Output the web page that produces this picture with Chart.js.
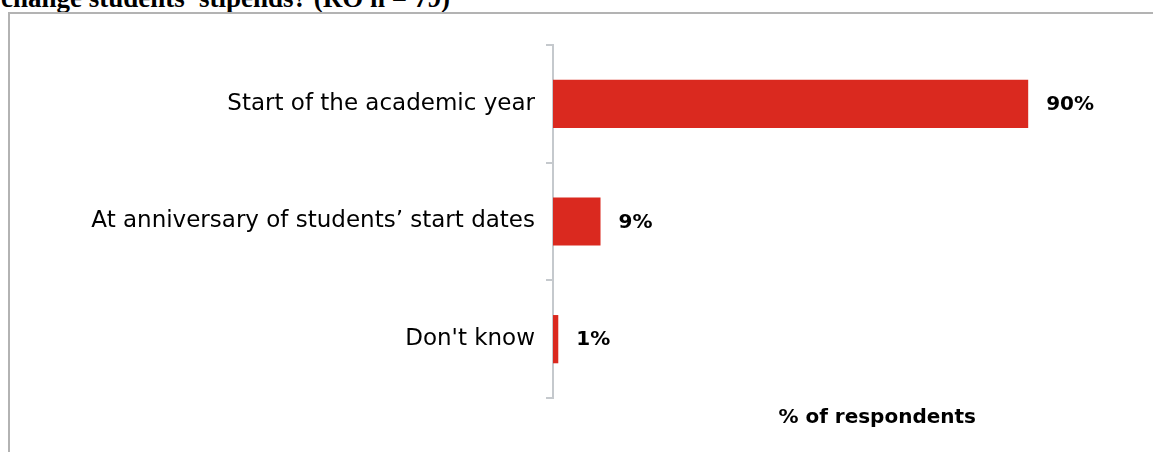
<!DOCTYPE html>
<html>
<head>
<meta charset="utf-8">
<script src="https://cdn.jsdelivr.net/npm/chart.js@4"></script>
<style>
  html, body { margin: 0; padding: 0; background: #fff; overflow: hidden; }
  body { width: 1153px; height: 452px; position: relative; }
  #heading {
    position: absolute; left: 1px; top: -15px; margin: 0;
    font: bold 27px/27px "Liberation Serif", "Times New Roman", serif;
    color: #000; white-space: nowrap;
  }
  #frame {
    position: absolute; left: 8px; top: 12px; width: 1200px; height: 500px;
    border-top: 2px solid #b3b3b3; border-left: 2px solid #b3b3b3;
  }
  #wrap { position: absolute; left: 0; top: 0; width: 1153px; height: 452px; }
</style>
</head>
<body>
<div id="heading">change students' stipends? (RO n = 79)</div>
<div id="frame"></div>
<div id="wrap"><canvas id="chart"></canvas></div>
<script>
// categories and share of respondents (%)
const categories = ["Start of the academic year", "At anniversary of students’ start dates", "Don't know"];
const shares = [90, 9, 1];
const axisTitle = "% of respondents";

const barRed = '#da291f';
const axisGrey = '#c5c9cd';

// value labels at the end of each bar
const valueLabels = {
    id: 'valueLabels',
    afterDatasetsDraw(chart) {
        const ctx = chart.ctx;
        const meta = chart.getDatasetMeta(0);
        ctx.save();
        ctx.font = 'bold 20px "DejaVu Sans"';
        ctx.fillStyle = '#000';
        ctx.textBaseline = 'middle';
        meta.data.forEach(function (bar, i) {
            ctx.fillText(shares[i] + '%', bar.x + 18, bar.y + 1);
        });
        // axis caption under the plot
        const area = chart.chartArea;
        ctx.textAlign = 'center';
        ctx.font = 'bold 20px "DejaVu Sans"';
        ctx.fillText(axisTitle, area.left + (area.right - area.left) * 0.614, area.bottom + 20);
        ctx.restore();
    }
};

const ctx = document.getElementById('chart').getContext('2d');
const chart = new Chart(ctx, {
    type: 'bar',
    data: {
        labels: categories,
        datasets: [{
            data: shares,
            backgroundColor: barRed,
            borderWidth: 0,
            categoryPercentage: 1,
            barPercentage: 0.41
        }]
    },
    options: {
        indexAxis: 'y',
        responsive: true,
        maintainAspectRatio: false,
        animation: false,
        layout: { padding: { top: 45, bottom: 54, right: 72, left: 0 } },
        plugins: { legend: { display: false }, tooltip: { enabled: false } },
        scales: {
            x: { display: false, min: 0, max: 100 },
            y: {
                afterFit(scale) { scale.width = 553; },
                border: { display: true, color: axisGrey, width: 2 },
                grid: { offset: true, drawOnChartArea: false, drawTicks: true, tickLength: 7, color: axisGrey, lineWidth: 2 },
                ticks: { padding: 11, color: '#000', font: { family: '"DejaVu Sans"', size: 23 } }
            }
        }
    },
    plugins: [valueLabels]
});
</script>
</body>
</html>
